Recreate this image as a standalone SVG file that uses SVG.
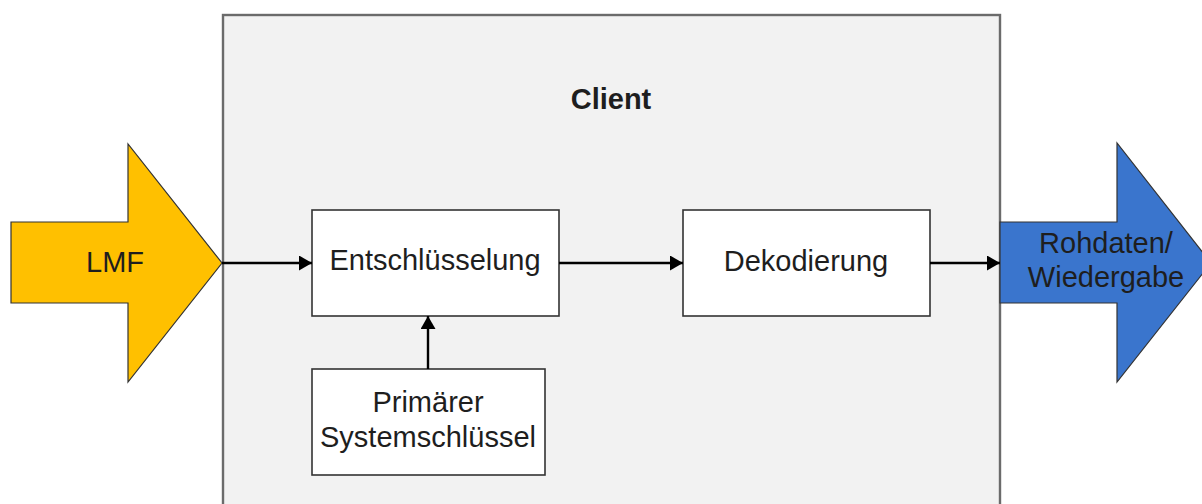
<svg xmlns="http://www.w3.org/2000/svg" width="1202" height="504" viewBox="0 0 1202 504">
  <defs>
    <style>
      text { font-family: "Liberation Sans", Arial, sans-serif; font-size: 29px; fill: #1e1e1e; text-anchor: middle; }
      .box { fill: #ffffff; stroke: #333; stroke-width: 1.6; }
      .conn { stroke: #000; stroke-width: 2.4; fill: none; }
      .bigarrow { stroke: #333; stroke-width: 1.2; stroke-linejoin: miter; }
    </style>
    <marker id="ah" viewBox="0 0 13 15" refX="13" refY="7.5" markerWidth="13" markerHeight="15" markerUnits="userSpaceOnUse" orient="auto">
      <path d="M0,0 L13,7.5 L0,15 Z" fill="#000"/>
    </marker>
  </defs>

  <g id="client">
    <rect x="223" y="15" width="777" height="500" fill="#f2f2f2" stroke="#6b6b6b" stroke-width="2.4"/>
    <text x="611" y="109" style="font-weight:bold">Client</text>
  </g>

  <g id="lmf">
    <path class="bigarrow" d="M11,222 L128,222 L128,144 L222,263 L128,382 L128,303 L11,303 Z" fill="#FFC000"/>
    <text x="115" y="272">LMF</text>
  </g>

  <g id="rohdaten">
    <path class="bigarrow" d="M1000,222 L1117,222 L1117,143 L1211,263 L1117,382 L1117,303 L1000,303 Z" fill="#3A75CD"/>
    <text x="1106" y="253">Rohdaten/</text>
    <text x="1106" y="287">Wiedergabe</text>
  </g>

  <g id="entschluesselung">
    <rect class="box" x="312" y="210" width="247" height="106"/>
    <text x="435" y="270">Entschlüsselung</text>
  </g>

  <g id="dekodierung">
    <rect class="box" x="683" y="210" width="247" height="106"/>
    <text x="806" y="271">Dekodierung</text>
  </g>

  <g id="primaerer">
    <rect class="box" x="312" y="369" width="233" height="106"/>
    <text x="428" y="412">Primärer</text>
    <text x="428" y="447">Systemschlüssel</text>
  </g>

  <g id="connectors">
    <line class="conn" x1="222" y1="263" x2="312" y2="263" marker-end="url(#ah)"/>
    <line class="conn" x1="559" y1="263" x2="683" y2="263" marker-end="url(#ah)"/>
    <line class="conn" x1="930" y1="263" x2="1000" y2="263" marker-end="url(#ah)"/>
    <line class="conn" x1="428" y1="369" x2="428" y2="316" marker-end="url(#ah)"/>
  </g>
</svg>
